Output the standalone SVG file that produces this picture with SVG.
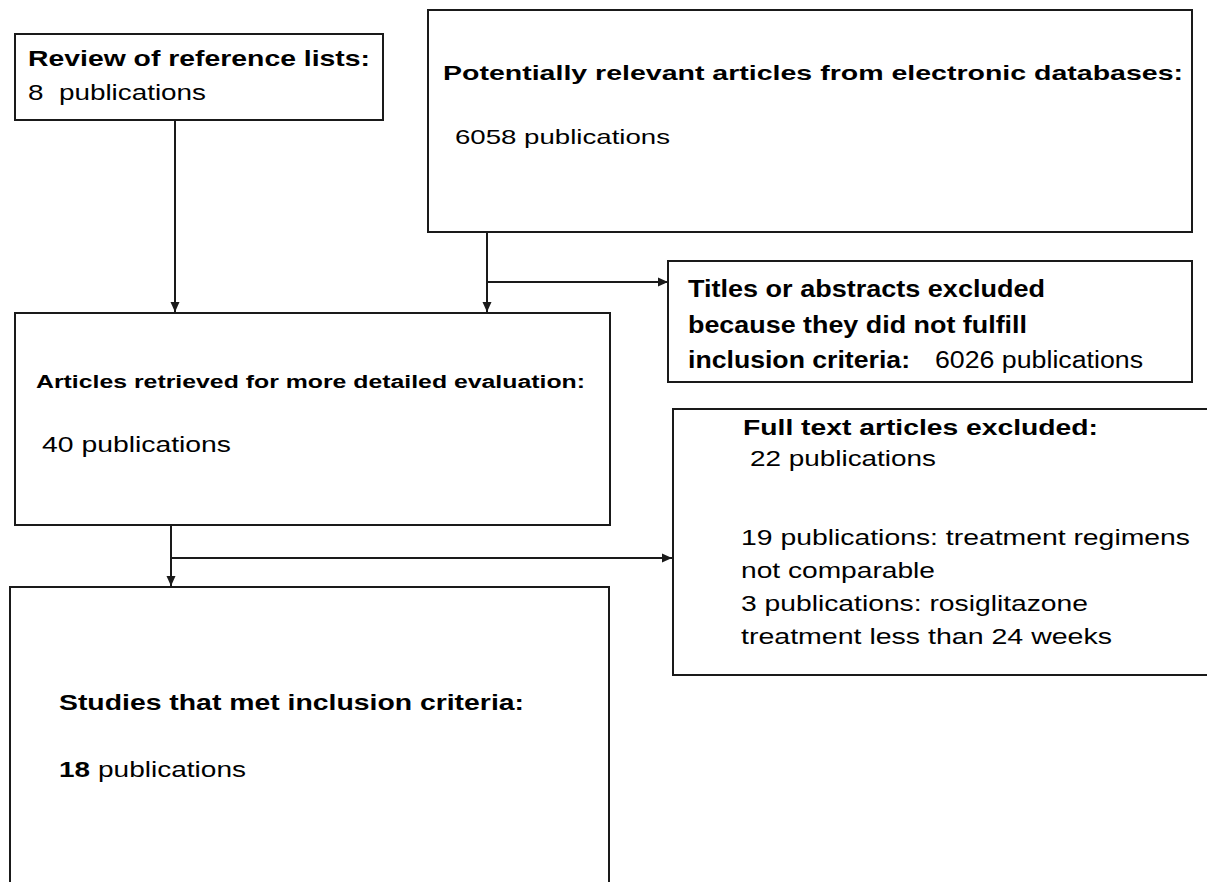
<svg xmlns="http://www.w3.org/2000/svg" width="1207" height="882" viewBox="0 0 1207 882">
<defs>
<style>
.box{fill:#fff;stroke:#1a1a1a;stroke-width:2}
.con{fill:none;stroke:#1a1a1a;stroke-width:2}
text{font-family:"Liberation Sans",Arial,sans-serif;fill:#000}
.b{font-weight:bold}
</style>
<marker id="ah" markerWidth="10" markerHeight="10" refX="10" refY="5" orient="auto" markerUnits="userSpaceOnUse">
<path d="M0,0.5 L10,5 L0,9.5 z" fill="#1a1a1a"/>
</marker>
</defs>
<rect width="1207" height="882" fill="#fff"/>
<g id="connectors">
<line class="con" x1="175" y1="120" x2="175" y2="312" marker-end="url(#ah)"/>
<line class="con" x1="487" y1="232" x2="487" y2="312" marker-end="url(#ah)"/>
<line class="con" x1="487" y1="282" x2="668" y2="282" marker-end="url(#ah)"/>
<line class="con" x1="171" y1="526" x2="171" y2="586" marker-end="url(#ah)"/>
<line class="con" x1="171" y1="558" x2="672" y2="558" marker-end="url(#ah)"/>
</g>
<g id="review">
<rect class="box" x="15" y="34" width="368" height="86"/>
<text class="b" x="28" y="66" font-size="22" textLength="342" lengthAdjust="spacingAndGlyphs">Review of reference lists:</text>
<text x="28" y="100" font-size="22" textLength="178" lengthAdjust="spacingAndGlyphs" xml:space="preserve">8  publications</text>
</g>
<g id="databases">
<rect class="box" x="428" y="10" width="764" height="222"/>
<text class="b" x="443" y="80" font-size="21" textLength="740" lengthAdjust="spacingAndGlyphs">Potentially relevant articles from electronic databases:</text>
<text x="455" y="144" font-size="21" textLength="215" lengthAdjust="spacingAndGlyphs">6058 publications</text>
</g>
<g id="retrieved">
<rect class="box" x="15" y="313" width="595" height="212"/>
<text class="b" x="36" y="388" font-size="18" textLength="549" lengthAdjust="spacingAndGlyphs">Articles retrieved for more detailed evaluation:</text>
<text x="42" y="452" font-size="22" textLength="189" lengthAdjust="spacingAndGlyphs">40 publications</text>
</g>
<g id="titles-excluded">
<rect class="box" x="668" y="261" width="524" height="121"/>
<text class="b" x="688" y="297" font-size="23" textLength="357" lengthAdjust="spacingAndGlyphs">Titles or abstracts excluded</text>
<text class="b" x="688" y="333" font-size="23" textLength="339" lengthAdjust="spacingAndGlyphs">because they did not fulfill</text>
<text class="b" x="688" y="368" font-size="23" textLength="222" lengthAdjust="spacingAndGlyphs">inclusion criteria:</text>
<text x="935" y="368" font-size="23" textLength="208" lengthAdjust="spacingAndGlyphs">6026 publications</text>
</g>
<g id="fulltext-excluded">
<rect class="box" x="673" y="409" width="560" height="266"/>
<text class="b" x="743" y="435" font-size="22" textLength="355" lengthAdjust="spacingAndGlyphs">Full text articles excluded:</text>
<text x="750" y="466" font-size="22" textLength="186" lengthAdjust="spacingAndGlyphs">22 publications</text>
<text x="741" y="545" font-size="22" textLength="449" lengthAdjust="spacingAndGlyphs">19 publications: treatment regimens</text>
<text x="741" y="578" font-size="22" textLength="194" lengthAdjust="spacingAndGlyphs">not comparable</text>
<text x="741" y="611" font-size="22" textLength="347" lengthAdjust="spacingAndGlyphs">3 publications: rosiglitazone</text>
<text x="741" y="644" font-size="22" textLength="371" lengthAdjust="spacingAndGlyphs">treatment less than 24 weeks</text>
</g>
<g id="included">
<rect class="box" x="10" y="587" width="599" height="320"/>
<text class="b" x="59" y="710" font-size="22" textLength="465" lengthAdjust="spacingAndGlyphs">Studies that met inclusion criteria:</text>
<text class="b" x="59" y="777" font-size="22" textLength="31" lengthAdjust="spacingAndGlyphs">18</text>
<text x="98" y="777" font-size="22" textLength="148" lengthAdjust="spacingAndGlyphs">publications</text>
</g>
</svg>
